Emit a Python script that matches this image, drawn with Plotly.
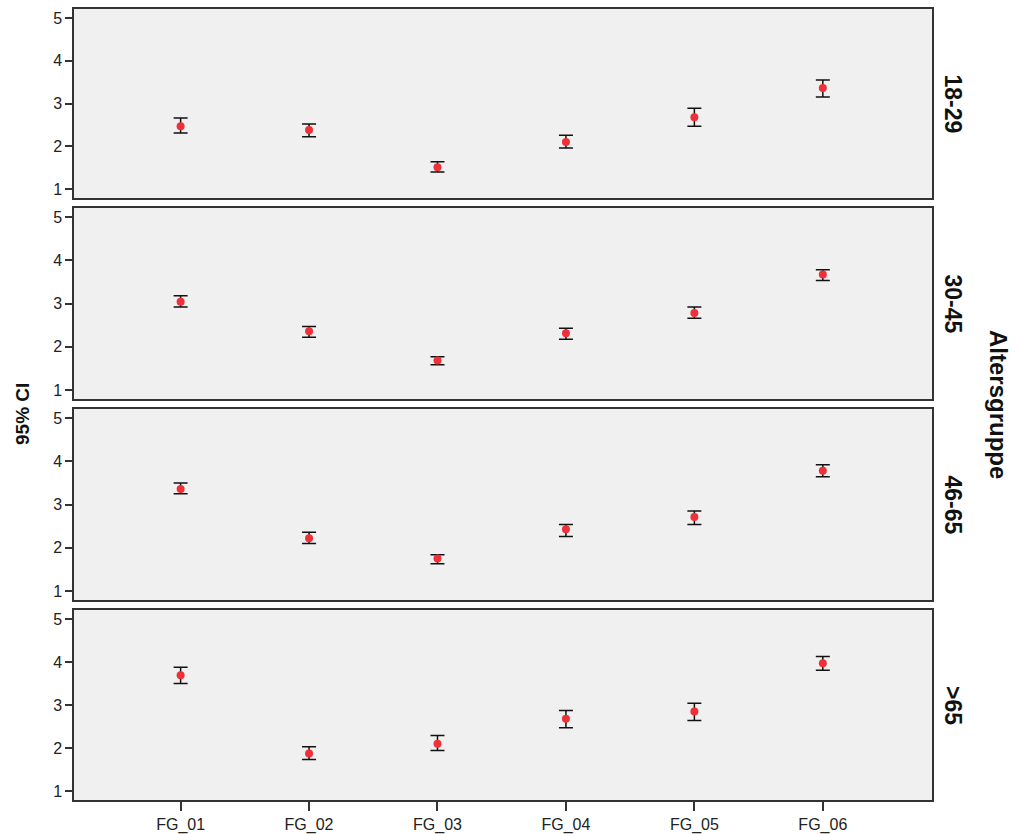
import plotly.graph_objects as go

categories = ["FG_01", "FG_02", "FG_03", "FG_04", "FG_05", "FG_06"]
age_groups = ["18-29", "30-45", "46-65", ">65"]

mean_18_29 = [2.47, 2.38, 1.51, 2.10, 2.68, 3.36]
upper_18_29 = [2.66, 2.52, 1.64, 2.26, 2.89, 3.55]
lower_18_29 = [2.31, 2.22, 1.40, 1.96, 2.47, 3.15]

mean_30_45 = [3.04, 2.36, 1.68, 2.31, 2.78, 3.67]
upper_30_45 = [3.18, 2.47, 1.77, 2.43, 2.92, 3.78]
lower_30_45 = [2.92, 2.22, 1.58, 2.17, 2.66, 3.53]

mean_46_65 = [3.36, 2.22, 1.75, 2.43, 2.71, 3.78]
upper_46_65 = [3.50, 2.36, 1.84, 2.54, 2.85, 3.92]
lower_46_65 = [3.25, 2.10, 1.63, 2.26, 2.54, 3.64]

mean_65p = [3.69, 1.87, 2.10, 2.68, 2.85, 3.97]
upper_65p = [3.88, 2.03, 2.29, 2.87, 3.04, 4.13]
lower_65p = [3.50, 1.73, 1.94, 2.47, 2.64, 3.81]

y_ticks = [1, 2, 3, 4, 5]

series = [
    (mean_18_29, upper_18_29, lower_18_29),
    (mean_30_45, upper_30_45, lower_30_45),
    (mean_46_65, upper_46_65, lower_46_65),
    (mean_65p, upper_65p, lower_65p),
]

W, H = 1019, 834
ml, mr, mt, mb = 74, 87, 9, 34
ph = H - mt - mb
panel_px = [(9, 198), (208, 399), (409, 600), (610, 800)]
domains = [[(H - mb - b) / ph, (H - mb - t) / ph] for (t, b) in panel_px]

font_family = "Liberation Sans, Arial, sans-serif"
line_col = "#333333"

fig = go.Figure()
layout = dict(
    width=W, height=H,
    margin=dict(l=ml, r=mr, t=mt, b=mb, autoexpand=False),
    paper_bgcolor="white",
    plot_bgcolor="#F0F0F0",
    showlegend=False,
    font=dict(family=font_family, color="#222222", size=15),
)

for i, (m, u, lo) in enumerate(series):
    xa = "x" if i == 0 else f"x{i+1}"
    ya = "y" if i == 0 else f"y{i+1}"
    fig.add_trace(go.Scatter(
        x=list(range(len(categories))), y=m,
        mode="markers",
        marker=dict(color="#EE3138", size=8),
        error_y=dict(type="data", symmetric=False,
                     array=[a - b for a, b in zip(u, m)],
                     arrayminus=[b - c for b, c in zip(m, lo)],
                     color="#111111", thickness=1.5, width=7),
        xaxis=xa, yaxis=ya,
    ))
    xkey = "xaxis" if i == 0 else f"xaxis{i+1}"
    ykey = "yaxis" if i == 0 else f"yaxis{i+1}"
    last = (i == len(series) - 1)
    layout[xkey] = dict(
        domain=[0, 1], anchor=ya,
        range=[-0.83, 5.85],
        tickmode="array",
        tickvals=list(range(len(categories))),
        ticktext=categories,
        showticklabels=last,
        ticks="outside" if last else "",
        ticklen=9, tickwidth=1.5, tickcolor=line_col,
        showline=True, linecolor=line_col, linewidth=1.5, mirror=True,
        showgrid=False, zeroline=False,
        tickfont=dict(size=16),
        matches="x" if i > 0 else None,
    )
    layout[ykey] = dict(
        domain=domains[i], anchor=xa,
        range=[0.79, 5.21],
        tickmode="array", tickvals=y_ticks,
        ticks="outside", ticklen=7, tickwidth=1.5, tickcolor=line_col,
        showline=True, linecolor=line_col, linewidth=1.5, mirror=True,
        showgrid=False, zeroline=False,
        tickfont=dict(size=16),
    )

fig.update_layout(**layout)

annotations = []
for i, name in enumerate(age_groups):
    yc = (domains[i][0] + domains[i][1]) / 2
    annotations.append(dict(
        text=f"<b>{name}</b>", x=1.0, y=yc, xref="paper", yref="paper",
        xshift=21, xanchor="center", yanchor="middle", textangle=90,
        showarrow=False, font=dict(size=23, color="#111111", family=font_family),
    ))
annotations.append(dict(
    text="<b>Altersgruppe</b>", x=1.0, y=(domains[1][0] + domains[2][1]) / 2,
    xref="paper", yref="paper",
    xshift=67, xanchor="center", yanchor="middle", textangle=90,
    showarrow=False, font=dict(size=24, color="#111111", family=font_family),
))
annotations.append(dict(
    text="<b>95% CI</b>", x=0.0, y=(H - mb - 414) / ph,
    xref="paper", yref="paper",
    xshift=-52, xanchor="center", yanchor="middle", textangle=-90,
    showarrow=False, font=dict(size=19, color="#111111", family=font_family),
))
fig.update_layout(annotations=annotations)

fig.write_html("out.html", config={"displayModeBar": False},
               post_script="document.body.style.margin='0';")
